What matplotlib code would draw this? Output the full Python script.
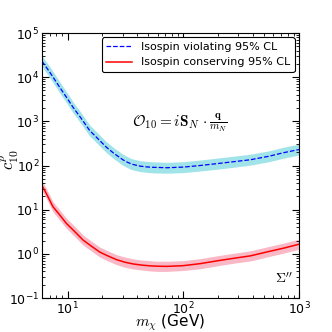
import numpy as np
import matplotlib
matplotlib.use("Agg")
import matplotlib.pyplot as plt
from matplotlib.ticker import LogLocator, NullFormatter

plt.rcParams['mathtext.fontset'] = 'cm'
plt.rcParams['font.family'] = 'DejaVu Sans'

# isospin violating (blue / cyan)
m_iv = [6.0, 7.0, 8.5, 10, 11.1, 13, 15.5, 18, 21.6, 25, 30, 33, 36, 42, 48, 55, 72,
        100, 140, 200, 280, 380, 550, 750, 1000]
c_iv = [2.3e4, 1.3e4, 6.0e3, 3.2e3, 2.1e3, 1.2e3, 620, 420, 260, 190, 135, 118, 107,
        97, 93, 91, 89, 92, 100, 111, 123, 135, 162, 197, 230]
c_iv_hi = [3.06e4, 1.73e4, 8.0e3, 4.26e3, 2.79e3, 1.6e3, 825, 560, 346, 253, 180,
           157, 142, 129, 124, 121, 118, 122, 133, 148, 164, 180, 215, 262, 306]
c_iv_lo = [1.73e4, 9.8e3, 4.5e3, 2.4e3, 1.58e3, 900, 466, 316, 196, 143, 101, 89,
           80, 73, 70, 68, 67, 69, 75, 83, 92, 102, 122, 148, 173]

# isospin conserving (red / pink)
m_ic = [6.0, 6.5, 7.46, 8.5, 9.74, 11.5, 13.6, 16, 18.9, 22, 26.4, 31, 36.8, 44,
        51.3, 60, 72, 100, 140, 200, 280, 380, 550, 750, 1000]
c_ic = [35, 24, 11.7, 7.7, 4.9, 3.2, 2.05, 1.5, 1.1, 0.91, 0.74, 0.65, 0.59, 0.555,
        0.535, 0.525, 0.52, 0.54, 0.60, 0.70, 0.80, 0.90, 1.13, 1.36, 1.65]
c_ic_hi = [45.5, 31.2, 15.2, 10.0, 6.4, 4.2, 2.67, 1.95, 1.43, 1.18, 0.96, 0.85,
           0.77, 0.72, 0.70, 0.68, 0.68, 0.70, 0.78, 0.91, 1.04, 1.17, 1.47, 1.77, 2.15]
c_ic_lo = [27, 18.5, 9.0, 5.9, 3.8, 2.46, 1.58, 1.16, 0.85, 0.70, 0.57, 0.50, 0.455,
           0.43, 0.41, 0.40, 0.40, 0.42, 0.46, 0.54, 0.62, 0.69, 0.87, 1.05, 1.27]

fig = plt.figure(figsize=(3.32, 3.32), dpi=100)
ax = fig.add_axes([0.1265, 0.1024, 0.774, 0.7982])

ax.fill_between(m_iv, c_iv_lo, c_iv_hi, color='#a0e4ea', lw=0)
ax.plot(m_iv, c_iv, '--', color='blue', lw=0.9, label='Isospin violating 95% CL')
ax.fill_between(m_ic, c_ic_lo, c_ic_hi, color='#f9b8c6', lw=0)
ax.plot(m_ic, c_ic, '-', color='red', lw=1.1, label='Isospin conserving 95% CL')

ax.set_xscale('log')
ax.set_yscale('log')
ax.set_xlim(6, 1000)
ax.set_ylim(0.1, 1e5)

ax.yaxis.set_major_locator(LogLocator(base=10, numticks=20))
ax.yaxis.set_minor_locator(LogLocator(base=10, subs=np.arange(2, 10), numticks=20))
ax.yaxis.set_minor_formatter(NullFormatter())
ax.xaxis.set_minor_locator(LogLocator(base=10, subs=np.arange(2, 10), numticks=20))
ax.xaxis.set_minor_formatter(NullFormatter())

ax.tick_params(which='both', direction='in', top=True, right=True, labelsize=9)
ax.tick_params(which='major', length=5, pad=2)
ax.tick_params(which='minor', length=2.5)

ax.set_xlabel(r'$m_\chi$ (GeV)', fontsize=11)
ax.xaxis.set_label_coords(0.5, -0.056)
ax.set_ylabel(r'$c_{10}^{p}$', fontsize=12)
ax.yaxis.set_label_coords(-0.08, 0.52)

ax.text(0.537, 0.66, r'$\mathcal{O}_{10}=i\mathbf{S}_N\,\cdot\frac{\mathbf{q}}{m_N}$',
        transform=ax.transAxes, ha='center', va='center', fontsize=11)
ax.text(0.975, 0.072, r"$\Sigma''$", transform=ax.transAxes, ha='right',
        va='center', fontsize=10)

leg = ax.legend(loc='upper right', fontsize=8, fancybox=True, framealpha=1,
                edgecolor='black', borderaxespad=0.4, handlelength=2.3)
leg.get_frame().set_linewidth(0.8)

fig.savefig('out.png', dpi=100)
